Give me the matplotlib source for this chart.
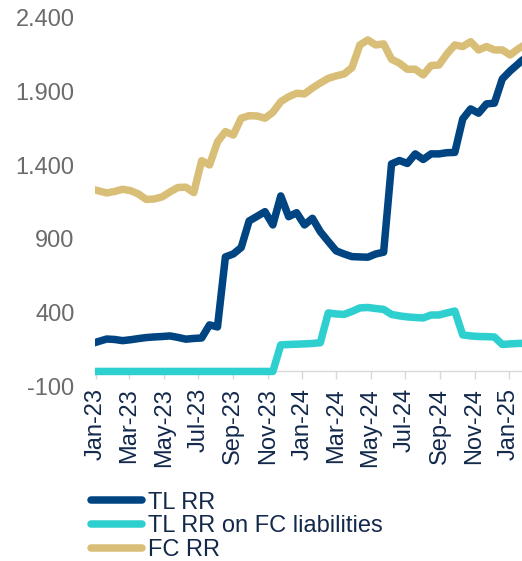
import pandas as pd
import numpy as np
import matplotlib
matplotlib.use('Agg')
import matplotlib.pyplot as plt
import matplotlib.dates as mdates
from matplotlib.ticker import FuncFormatter

plt.rcParams['font.family'] = ['Liberation Sans', 'DejaVu Sans']

# biweekly reserve requirement data
dates = pd.date_range('2022-12-23', periods=56, freq='14D')

tl_rr = [187, 204, 220, 217, 209, 215, 223, 230, 234, 237,
         241, 231, 219, 224, 227, 316, 302, 777, 797, 841,
         1021, 1052, 1084, 994, 1191, 1050, 1077, 994, 1039, 948,
         882, 818, 797, 779, 777, 775, 797, 809, 1408, 1431,
         1411, 1476, 1438, 1476, 1476, 1484, 1486, 1713, 1781, 1752,
         1815, 1820, 1984, 2039, 2086, 2134]

tl_rr_fc = [0, 0, 0, 0, 0, 0, 0, 0, 0, 0,
            0, 0, 0, 0, 0, 0, 0, 0, 0, 0,
            0, 0, 0, 0, 180, 183, 185, 187, 190, 195,
            397, 390, 387, 407, 431, 434, 427, 421, 387, 377,
            370, 366, 363, 383, 383, 397, 410, 248, 241, 237,
            236, 234, 183, 187, 190, 191]

fc_rr = [1238, 1225, 1211, 1221, 1236, 1227, 1204, 1167, 1170, 1184,
         1218, 1248, 1250, 1213, 1430, 1401, 1557, 1627, 1604, 1718,
         1735, 1733, 1718, 1758, 1830, 1864, 1887, 1883, 1923, 1957,
         1988, 2005, 2018, 2061, 2215, 2249, 2215, 2222, 2118, 2091,
         2050, 2050, 2012, 2075, 2079, 2154, 2215, 2204, 2237, 2181,
         2204, 2181, 2181, 2147, 2188, 2222]

series = [("TL RR", tl_rr, "#004582"),
          ("TL RR on FC liabilities", tl_rr_fc, "#2ECFCF"),
          ("FC RR", fc_rr, "#D9BE77")]

fig = plt.figure(figsize=(5.22, 5.61), dpi=100)
ax = fig.add_axes([0.1828, 0.3116, 0.8184, 0.6569])

for name, vals, col in series:
    ax.plot(dates, vals, color=col, lw=5.4, label=name,
            solid_capstyle='round', solid_joinstyle='round')

ax.set_ylim(-100, 2400)
ax.set_yticks(np.arange(-100, 2401, 500))
ax.yaxis.set_major_formatter(FuncFormatter(lambda v, p: f"{v:,.0f}".replace(',', '.')))
ax.set_xlim(pd.Timestamp('2022-12-31'), pd.Timestamp('2025-01-25'))

ax.xaxis.set_major_locator(mdates.MonthLocator(bymonth=[1, 3, 5, 7, 9, 11]))
ax.xaxis.set_major_formatter(mdates.DateFormatter('%b-%y'))

for s in ['top', 'right', 'left']:
    ax.spines[s].set_visible(False)
ax.spines['bottom'].set_position(('data', 0))
ax.spines['bottom'].set_color('#D9D9D9')
ax.spines['bottom'].set_linewidth(1.0)
ax.spines['bottom'].set_zorder(0)

ax.tick_params(axis='y', length=0, pad=15, labelsize=17, labelcolor='#6B6B6B')
ax.tick_params(axis='x', direction='out', length=5.8, width=1.0, color='#D9D9D9',
               pad=6, labelsize=17, labelcolor='#13294B', labelrotation=90)

leg = fig.legend(loc='upper left', bbox_to_anchor=(0.1743, 0.1235), frameon=False,
                 fontsize=17, handlelength=2.17, handletextpad=0.25,
                 labelspacing=0.07, borderpad=0, borderaxespad=0)
for t in leg.get_texts():
    t.set_color('#13294B')

fig.savefig('out.png', dpi=100)
